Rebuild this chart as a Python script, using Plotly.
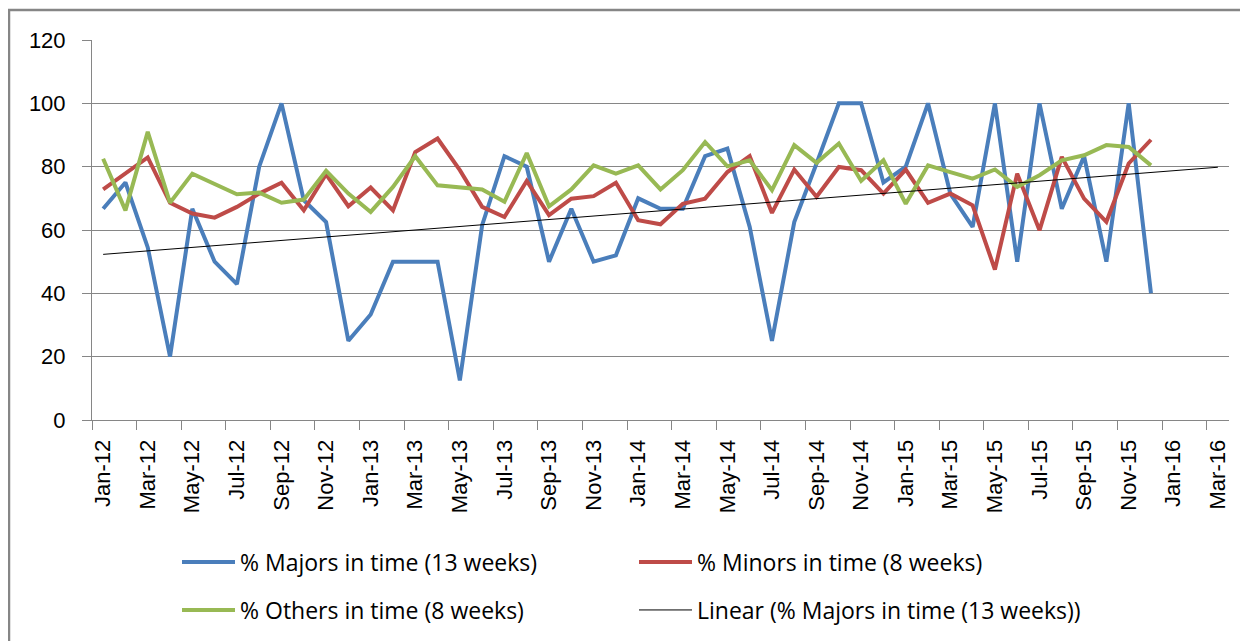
import numpy as np
import plotly.graph_objects as go

month_names = ["Jan", "Feb", "Mar", "Apr", "May", "Jun", "Jul", "Aug", "Sep", "Oct", "Nov", "Dec"]
# category months Jan-12 .. Mar-16
months = [f"{month_names[m]}-{12 + y}" for y in range(5) for m in range(12)][:51]

majors = [66.7, 75, 54.5, 20, 66.7, 50, 42.9, 80, 100, 69.4, 62.5, 25,
          33.3, 50, 50, 50, 12.5, 61.5, 83.3, 80, 50, 66.7, 50, 52,
          70, 66.7, 66.7, 83.3, 85.7, 61, 25, 62.5, 81, 100, 100, 75,
          80, 100, 71.5, 61, 100, 50, 100, 66.7, 83.3, 50, 100, 40]
minors = [72.8, 77.8, 82.9, 68.6, 65.2, 63.9, 67.3, 71.5, 74.9, 66.2, 77.6, 67.5,
          73.4, 66.2, 84.6, 88.9, 78.9, 67.3, 64.1, 75.5, 64.7, 69.9, 70.7, 74.9,
          63.1, 61.8, 68.3, 69.9, 78.3, 83.3, 65.4, 79.1, 70.5, 79.9, 78.9, 71.5,
          79.1, 68.6, 71.5, 67.8, 47.5, 77.8, 59.9, 83.1, 69.9, 62.6, 81, 88.5]
others = [82.5, 66.2, 91, 68.6, 77.8, 74.4, 71.3, 71.8, 68.6, 69.6, 78.7, 71.5,
          65.7, 73.6, 83.3, 74.1, 73.4, 72.8, 68.9, 84.3, 67.5, 72.8, 80.4, 77.8,
          80.4, 72.8, 78.9, 87.8, 80.1, 82, 72.6, 86.8, 81.2, 87.3, 75.5, 82,
          68.3, 80.4, 78.3, 76.2, 79.1, 73.6, 77.3, 82, 83.6, 86.8, 86.2, 80.4]

y_ticks = [0, 20, 40, 60, 80, 100, 120]
label_idx = list(range(0, len(months), 2))
tick_labels = [months[i] for i in label_idx]

n = len(majors)
x_data = list(range(n))
# Excel linear trendline of majors, forecast forward 3 periods
coef = np.polyfit(np.arange(1, n + 1), majors, 1)
x_trend = np.array([0, len(months) - 1])
y_trend = np.polyval(coef, x_trend + 1)

BLUE = "#4A7EBB"
RED = "#BE4B48"
GREEN = "#98B954"
GRID = "#868686"
FONT = "Liberation Sans, Arial, sans-serif"
LEG_FONT = "Open Sans, DejaVu Sans, sans-serif"

fig = go.Figure()
fig.add_trace(go.Scatter(x=x_data, y=majors, mode="lines", name="% Majors in time (13 weeks)",
                         line=dict(color=BLUE, width=4), legend="legend"))
fig.add_trace(go.Scatter(x=x_data, y=minors, mode="lines", name="% Minors in time (8 weeks)",
                         line=dict(color=RED, width=4), legend="legend"))
fig.add_trace(go.Scatter(x=x_data, y=others, mode="lines", name="% Others in time (8 weeks)",
                         line=dict(color=GREEN, width=4), legend="legend2"))
fig.add_trace(go.Scatter(x=x_trend, y=y_trend, mode="lines", name="Linear (% Majors in time (13 weeks))",
                         line=dict(color="#000000", width=1), legend="legend2"))

# page body adds an 8px offset, so margins are set in figure coordinates
L, R, T, B = 84, 27, 32, 229
W, H = 1248, 641
pw, ph = W - L - R, H - T - B

def px_x(x):
    return (x - L) / pw

def px_y(y):
    return (H - B - y) / ph

leg_common = dict(orientation="h", xanchor="left", yanchor="middle",
                  font=dict(family=LEG_FONT, size=23, color="#000000"),
                  itemwidth=53,
                  entrywidth=389, entrywidthmode="pixels",
                  bgcolor="rgba(0,0,0,0)", borderwidth=0)

fig.update_layout(
    width=W, height=H,
    margin=dict(l=L, r=R, t=T, b=B, autoexpand=False),
    paper_bgcolor="white", plot_bgcolor="white",
    font=dict(family=FONT, size=21, color="#000000"),
    showlegend=True,
    legend=dict(x=px_x(169), y=px_y(554), **leg_common),
    legend2=dict(x=px_x(169), y=px_y(602), **leg_common),
    xaxis=dict(
        range=[-0.5, len(months) - 0.5],
        tickmode="array", tickvals=label_idx, ticktext=tick_labels,
        tickangle=-90, ticks="", showgrid=False, zeroline=False,
        showline=True, linecolor=GRID, linewidth=1,
        tickfont=dict(family=FONT, size=22, color="#000000"),
        minor=dict(tickmode="array", tickvals=[i - 0.5 for i in label_idx],
                   ticks="outside", ticklen=9, tickcolor=GRID, tickwidth=1, showgrid=False),
        ticklabelstandoff=10,
    ),
    yaxis=dict(
        range=[0, 120], tickmode="array", tickvals=y_ticks,
        ticks="outside", ticklen=9, tickcolor=GRID, tickwidth=1,
        showgrid=True, gridcolor=GRID, gridwidth=1, zeroline=False,
        showline=True, linecolor=GRID, linewidth=1,
        tickfont=dict(family=FONT, size=22, color="#000000"),
        ticklabelstandoff=12,
    ),
    shapes=[dict(type="rect", xref="paper", yref="paper",
                 x0=px_x(1), x1=px_x(1262), y0=px_y(660), y1=px_y(2),
                 line=dict(color=GRID, width=2.5), fillcolor="rgba(0,0,0,0)", layer="below")],
)

fig.write_html("out.html")
